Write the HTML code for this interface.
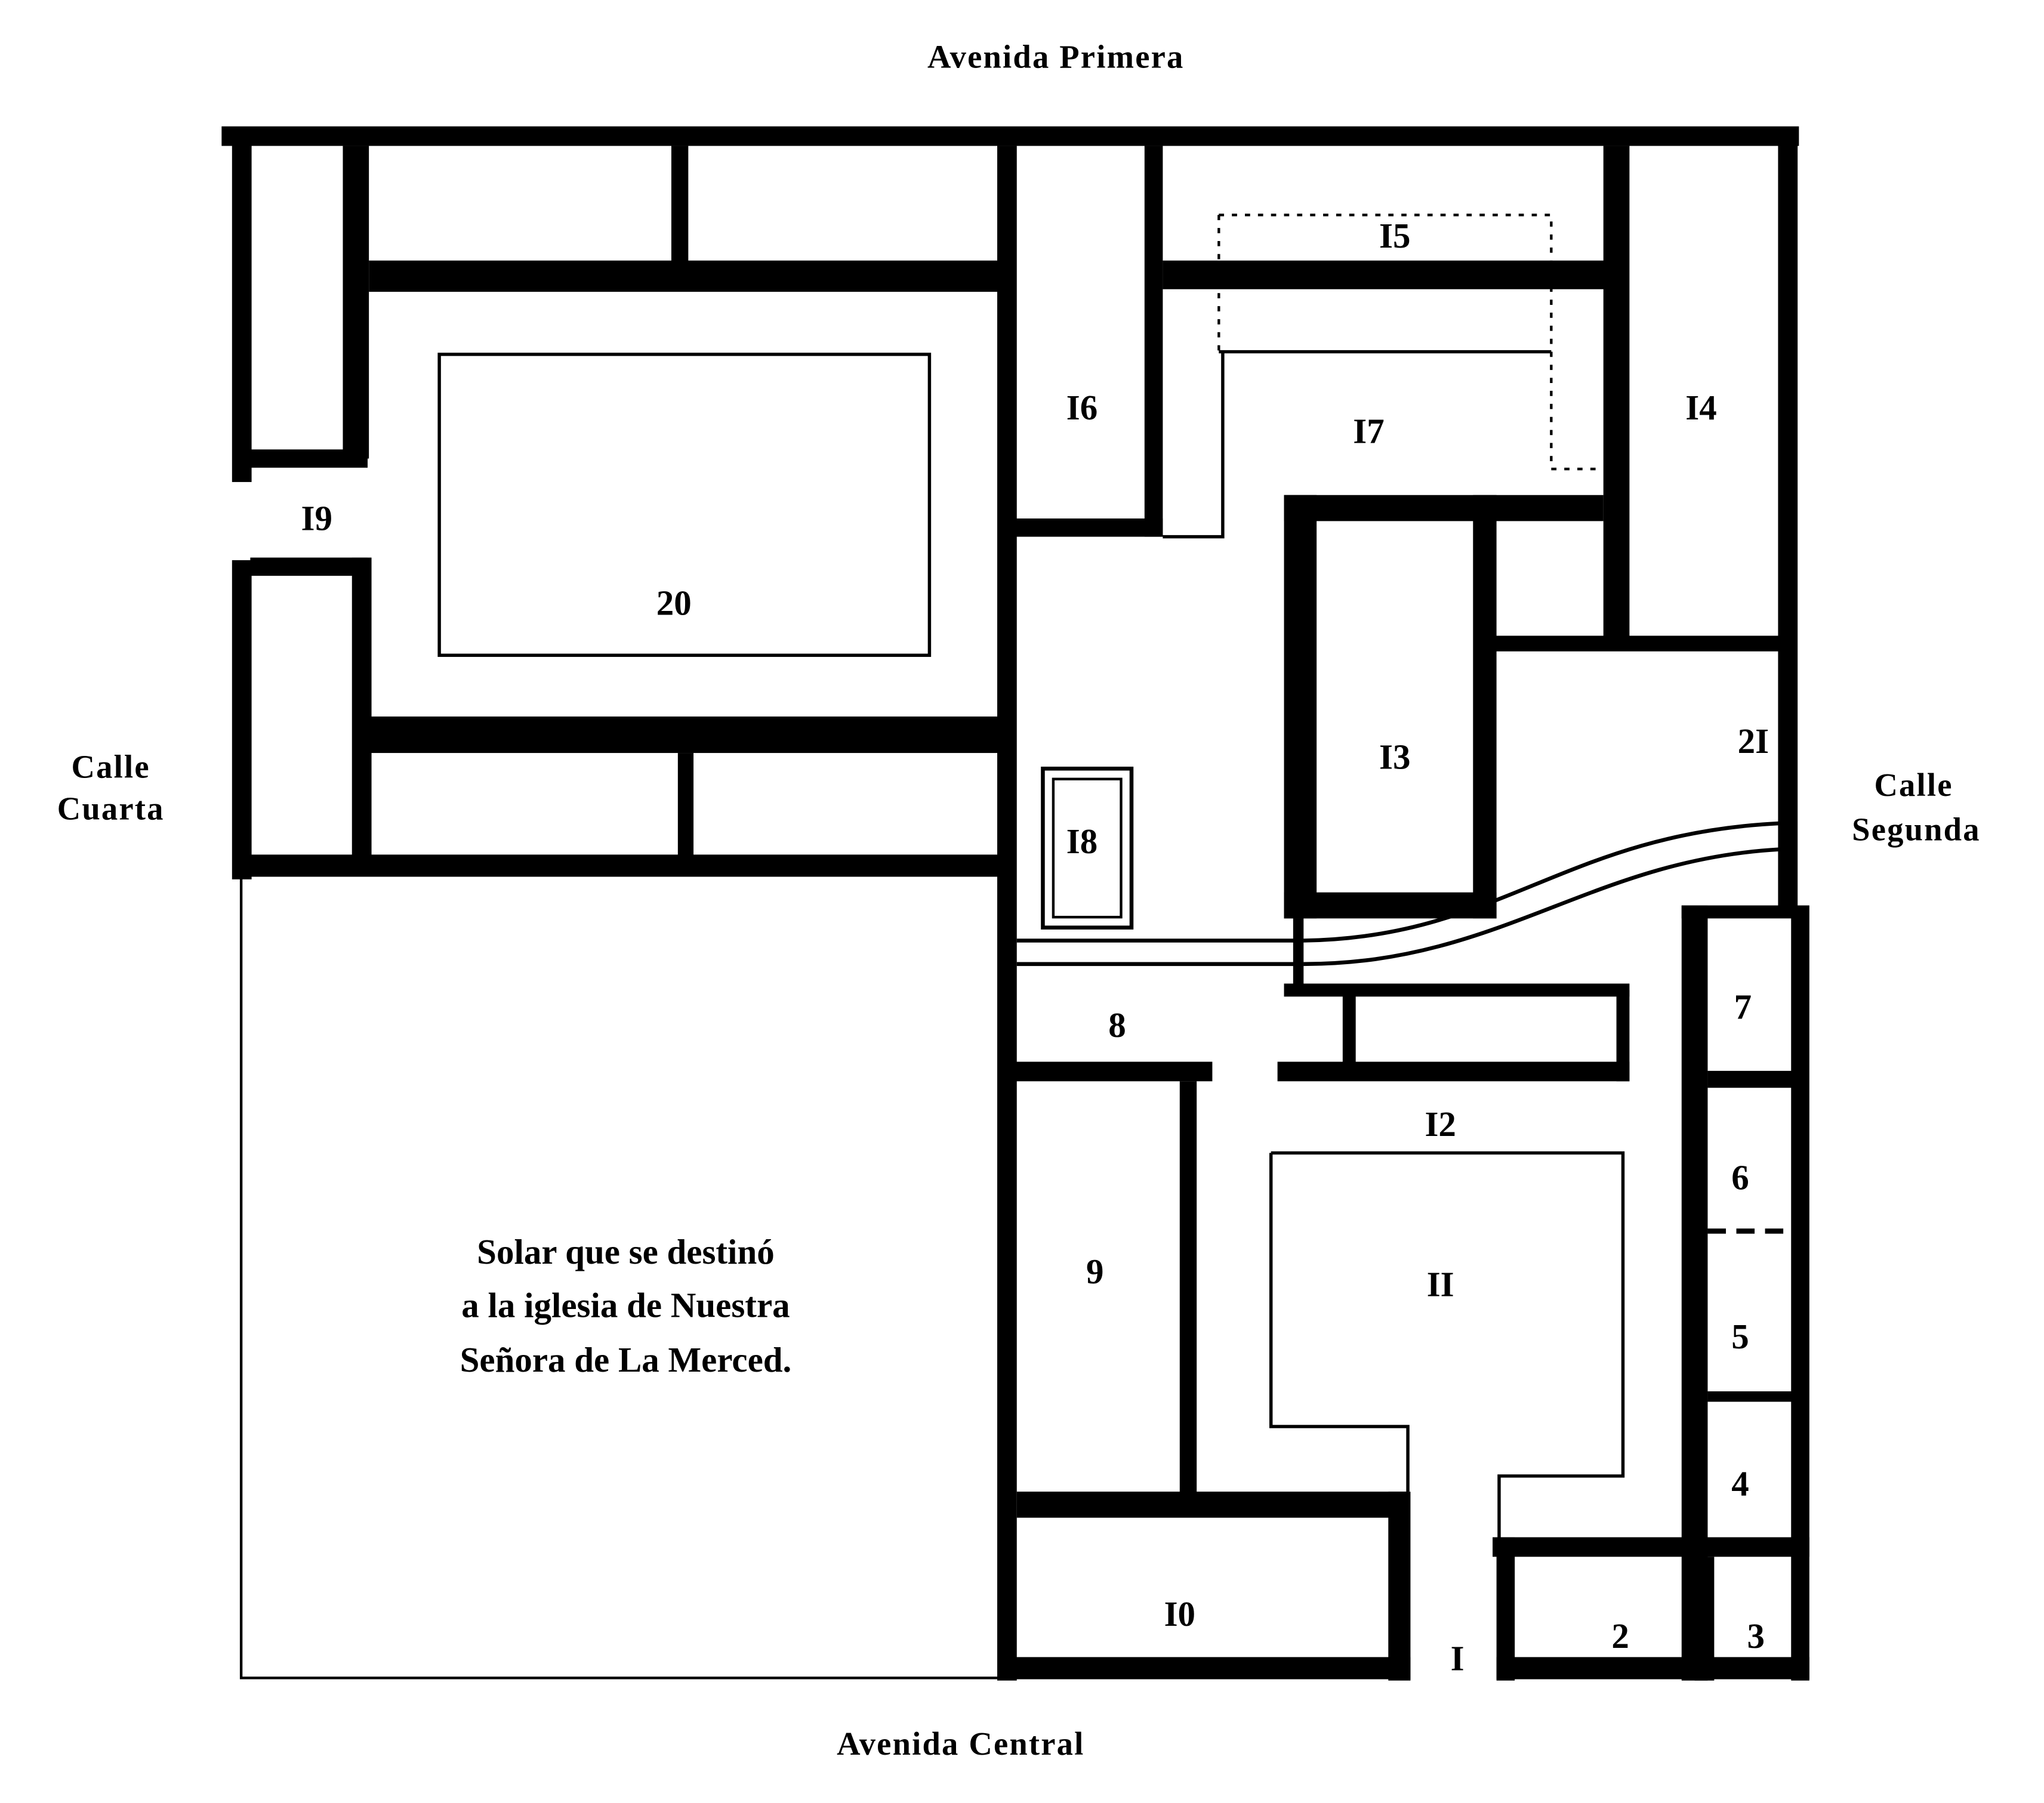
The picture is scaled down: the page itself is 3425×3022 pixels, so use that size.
<!DOCTYPE html>
<html><head><meta charset="utf-8"><style>
html,body{margin:0;padding:0;background:#fff;}
svg{display:block;}
text{font-family:"Liberation Serif",serif;fill:#000;}
.s{font-size:25px;font-weight:bold;letter-spacing:1px;}
.n{font-size:27px;font-weight:bold;text-anchor:middle;}
</style></head><body>
<svg width="3425" height="3022" viewBox="0 0 1568 1384" preserveAspectRatio="none" xmlns="http://www.w3.org/2000/svg">
<rect width="1568" height="1384" fill="#fff"/>
<g fill="#000">
<rect x="170" y="97" width="1210" height="15"/>
<rect x="178" y="100" width="15" height="270"/>
<rect x="178" y="430" width="15" height="245"/>
<rect x="1364" y="100" width="15" height="600"/>
<rect x="1374" y="695" width="14" height="595"/>
<rect x="770" y="1272" width="312" height="17"/>
<rect x="1148" y="1272" width="240" height="17"/>
<rect x="185" y="656" width="590" height="16"/>
<rect x="765" y="112" width="15" height="1178"/>
<rect x="263" y="112" width="20" height="240"/>
<rect x="192" y="345" width="90" height="14"/>
<rect x="192" y="428" width="90" height="14"/>
<rect x="270" y="428" width="15" height="232"/>
<rect x="515" y="112" width="13" height="95"/>
<rect x="283" y="200" width="482" height="24"/>
<rect x="283" y="550" width="482" height="28"/>
<rect x="520" y="578" width="12" height="82"/>
<rect x="878" y="112" width="14" height="300"/>
<rect x="765" y="398" width="127" height="14"/>
<rect x="892" y="200" width="340" height="22"/>
<rect x="1230" y="112" width="20" height="385"/>
<rect x="1140" y="488" width="225" height="12"/>
<rect x="985" y="380" width="245" height="20"/>
<rect x="985" y="380" width="25" height="325"/>
<rect x="985" y="685" width="163" height="20"/>
<rect x="1130" y="380" width="18" height="325"/>
<rect x="992" y="705" width="8" height="55"/>
<rect x="985" y="755" width="265" height="10"/>
<rect x="1030" y="760" width="10" height="60"/>
<rect x="770" y="815" width="160" height="15"/>
<rect x="980" y="815" width="270" height="15"/>
<rect x="1240" y="760" width="10" height="70"/>
<rect x="1290" y="695" width="20" height="595"/>
<rect x="1290" y="695" width="85" height="10"/>
<rect x="1310" y="822" width="65" height="13"/>
<rect x="1310" y="1068" width="65" height="8"/>
<rect x="1145" y="1180" width="243" height="15"/>
<rect x="1148" y="1180" width="14" height="110"/>
<rect x="1300" y="1195" width="15" height="95"/>
<rect x="905" y="830" width="13" height="318"/>
<rect x="780" y="1145" width="300" height="20"/>
<rect x="1065" y="1145" width="17" height="145"/>
</g>
<g fill="none" stroke="#000">
<rect x="185" y="672" width="588" height="616" stroke-width="2"/>
<rect x="337" y="272" width="376" height="231" stroke-width="2.5"/>
<path d="M935 270 H1190 M938 270 V412 H892" stroke-width="2.5"/>
<path d="M935 165 H1190 V360 H1230 M935 165 V270" stroke-width="2" stroke-dasharray="4 6"/>
<rect x="800" y="590" width="68" height="122" stroke-width="3"/>
<rect x="808" y="598" width="52" height="106" stroke-width="2"/>
<path d="M780 722 H1000 M780 740 H1000" stroke-width="3"/>
<path d="M1000 722 C1150 720 1200 640 1365 632 M1000 740 C1150 740 1220 660 1365 652" stroke-width="3"/>
<path d="M975 885 H1245 V1133 H1150 V1180 M975 885 V1095 H1080 V1145" stroke-width="2.5"/>
<path d="M1310 945 H1375" stroke-width="4" stroke-dasharray="14 8"/>
</g>
<text class="s" x="810" y="52" text-anchor="middle">Avenida Primera</text>
<text class="s" x="737" y="1347" text-anchor="middle">Avenida Central</text>
<text class="s" x="85" y="597" text-anchor="middle">Calle</text>
<text class="s" x="85" y="629" text-anchor="middle">Cuarta</text>
<text class="s" x="1468" y="611" text-anchor="middle">Calle</text>
<text class="s" x="1470" y="645" text-anchor="middle">Segunda</text>
<g style="font-size:27px;font-weight:bold" text-anchor="middle">
<text x="480" y="970">Solar que se destinó</text>
<text x="480" y="1011">a la iglesia de Nuestra</text>
<text x="480" y="1053">Señora de La Merced.</text>
</g>
<g class="n">
<text class="n" x="1070" y="190">I5</text>
<text class="n" x="830" y="322">I6</text>
<text class="n" x="1050" y="340">I7</text>
<text class="n" x="1305" y="322">I4</text>
<text class="n" x="243" y="407">I9</text>
<text class="n" x="517" y="472">20</text>
<text class="n" x="1070" y="590">I3</text>
<text class="n" x="1345" y="578">2I</text>
<text class="n" x="830" y="655">I8</text>
<text class="n" x="857" y="796">8</text>
<text class="n" x="1337" y="782">7</text>
<text class="n" x="1105" y="872">I2</text>
<text class="n" x="1335" y="913">6</text>
<text class="n" x="1105" y="995">II</text>
<text class="n" x="840" y="985">9</text>
<text class="n" x="1335" y="1035">5</text>
<text class="n" x="1335" y="1148">4</text>
<text class="n" x="905" y="1248">I0</text>
<text class="n" x="1118" y="1282">I</text>
<text class="n" x="1243" y="1265">2</text>
<text class="n" x="1347" y="1265">3</text>
</g>
</svg>
</body></html>
